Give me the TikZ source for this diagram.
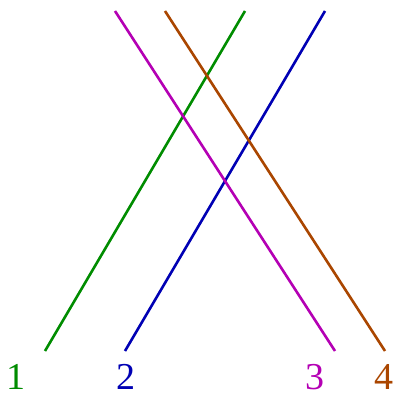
\documentclass[tikz,border=0pt]{standalone}
\usepackage{fontspec}
\setmainfont{Liberation Serif}
\definecolor{cgreen}{RGB}{0,140,0}
\definecolor{cblue}{RGB}{0,0,180}
\definecolor{cmag}{RGB}{180,0,180}
\definecolor{cbrown}{RGB}{170,70,0}
\begin{document}
\begin{tikzpicture}[x=1pt,y=-1pt,
  ln/.style={line width=2.6pt},
  lab/.style={font=\fontsize{38}{42}\selectfont, inner sep=0pt}]
\useasboundingbox (0,0) rectangle (394,393);
\coordinate (g1) at (45,351); \coordinate (g2) at (245,11);
\coordinate (b1) at (125,351); \coordinate (b2) at (325,11);
\coordinate (m1) at (115,11); \coordinate (m2) at (335,351);
\coordinate (r1) at (165,11); \coordinate (r2) at (385,351);
\draw[ln,cgreen] (g1) -- (g2);
\draw[ln,cblue] (b1) -- (b2);
\draw[ln,cmag] (m1) -- (m2);
\draw[ln,cbrown] (r1) -- (r2);
\node[lab,text=cgreen,anchor=south] (l1) at (16,390) {1};
\node[lab,text=cblue,anchor=south] (l2) at (126,390) {2};
\node[lab,text=cmag,anchor=south] (l3) at (315,390) {3};
\node[lab,text=cbrown,anchor=south] (l4) at (384,390) {4};
\end{tikzpicture}
\end{document}
